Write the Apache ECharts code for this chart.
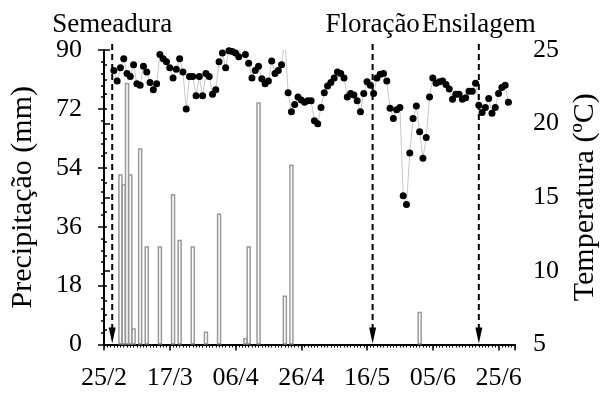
<!DOCTYPE html>
<html>
<head>
<meta charset="utf-8">
<script src="https://cdn.jsdelivr.net/npm/echarts@6/dist/echarts.min.js"></script>
<style>
  html, body { margin: 0; padding: 0; background: #fff; }
  #chart { width: 608px; height: 394px; }
</style>
</head>
<body>
<div id="chart"></div>
<script>
// Day 0 = 25/2; one value per day on the x axis.
const dateLabels = ['25/2', '17/3', '06/4', '26/4', '16/5', '05/6', '25/6'];

// Daily rainfall (mm): day index and amount.
const rainDays = [5, 6, 7, 8, 9, 11, 13, 17, 21, 23, 27, 31, 35, 43, 44, 47, 55, 57, 96];
const rainMm   = [52, 49, 80, 52, 5, 60, 30, 30, 46, 32, 30, 4, 40, 2, 30, 74, 15, 55, 10];

// Daily mean temperature (ºC), starting at day 3.
const tempStartDay = 3;
const temperature = [
  23.6, 22.9, 23.8, 24.4, 23.4, 23.2, 24.0, 22.7, 22.6, 23.9,
  23.5, 22.8, 22.3, 22.7, 24.7, 24.4, 24.2, 23.8, 23.1, 23.7,
  24.4, 23.5, 21.0, 23.2, 23.2, 21.9, 23.2, 21.9, 23.4, 23.2,
  22.0, 22.3, 24.2, 24.8, 23.8, 24.95, 24.9, 24.8, 24.55, 25.6,
  24.7, 24.1, 23.1, 23.6, 23.9, 23.05, 22.7, 22.9, 24.25, 23.4,
  23.6, 24.0, 25.8, 22.1, 20.8, 21.3, 21.8, 21.6, 21.45, 21.55,
  21.55, 20.2, 20.0, 21.1, 22.1, 22.55, 22.8, 23.1, 23.5, 23.4,
  23.1, 21.8, 22.05, 21.95, 21.55, 20.8, 22.05, 22.85, 22.6, 22.05,
  23.1, 23.35, 23.4, 22.9, 21.05, 20.35, 20.95, 21.1, 15.1, 14.5,
  18.0, 20.35, 21.2, 19.45, 17.65, 19.05, 21.8, 23.1, 22.75, 22.85,
  22.9, 22.65, 22.35, 21.65, 22.0, 22.0, 21.65, 21.75, 22.2, 22.2,
  22.75, 21.25, 20.75, 21.1, 21.7, 20.7, 21.1, 22.05, 22.45, 22.6,
  21.45
];

// Crop events marked with dashed arrows.
const eventNames = ['Semeadura', 'Floração', 'Ensilagem'];
const eventDays  = [2.5, 81.7, 114];

const FONT = '"Liberation Serif", "Times New Roman", serif';
const LABEL_SIZE = 26;
const TITLE_SIZE = 30;
const EVENT_SIZE = 27;

const rainData = rainDays.map((d, i) => [d, rainMm[i]]);
const tempData = temperature.map((t, i) => [tempStartDay + i, t]);
const eventData = eventDays.map((d, i) => [d, i]);

const chart = echarts.init(document.getElementById('chart'), null, { renderer: 'canvas' });

const axisLineStyle = { show: true, lineStyle: { color: '#000', width: 2 } };
const labelStyle = { color: '#000', fontFamily: FONT, fontSize: LABEL_SIZE };

chart.setOption({
  animation: false,
  backgroundColor: '#fff',
  grid: { left: 104, right: 90, top: 50, bottom: 49.5, containLabel: false },
  xAxis: [
    {
      type: 'value', min: 0, max: 125, interval: 20, position: 'bottom',
      axisLine: axisLineStyle,
      axisTick: { show: true, length: 6, lineStyle: { color: '#000', width: 1.5 } },
      axisLabel: {
        ...labelStyle, margin: 21,
        formatter: v => (v % 20 === 0 && dateLabels[v / 20]) ? dateLabels[v / 20] : ''
      },
      splitLine: { show: false }
    },
    {
      // daily tick marks
      type: 'value', min: 0, max: 125, interval: 1, position: 'bottom',
      axisLine: { show: false },
      axisTick: { show: true, length: 3, lineStyle: { color: '#000', width: 1 } },
      axisLabel: { show: false },
      splitLine: { show: false }
    }
  ],
  yAxis: [
    {
      type: 'value', min: 0, max: 90, interval: 18, position: 'left',
      name: 'Precipitação (mm)', nameLocation: 'middle', nameGap: 66,
      nameTextStyle: { color: '#000', fontFamily: FONT, fontSize: TITLE_SIZE },
      axisLine: axisLineStyle,
      axisTick: { show: true, length: 6, lineStyle: { color: '#000', width: 1.5 } },
      minorTick: { show: true, splitNumber: 5, length: 3, lineStyle: { color: '#000', width: 1.5 } },
      axisLabel: { ...labelStyle, margin: 22 },
      splitLine: { show: false }
    },
    {
      type: 'value', min: 5, max: 25, interval: 5, position: 'right',
      name: 'Temperatura (ºC)', nameLocation: 'middle', nameGap: 55,
      nameTextStyle: { color: '#000', fontFamily: FONT, fontSize: TITLE_SIZE },
      axisLine: axisLineStyle,
      axisTick: { show: true, length: 6, lineStyle: { color: '#000', width: 1.5 } },
      minorTick: { show: true, splitNumber: 5, length: 3, lineStyle: { color: '#000', width: 1.5 } },
      axisLabel: { ...labelStyle, margin: 18 },
      splitLine: { show: false }
    }
  ],
  series: [
    {
      name: 'Precipitação',
      type: 'bar',
      xAxisIndex: 0, yAxisIndex: 0,
      data: rainData,
      barWidth: 4.5,
      itemStyle: { color: '#fff', borderColor: '#999', borderWidth: 1.5 },
      z: 2
    },
    {
      name: 'Temperatura',
      type: 'line',
      xAxisIndex: 0, yAxisIndex: 1,
      data: tempData,
      clip: true,
      symbol: 'circle',
      symbolSize: 7,
      itemStyle: { color: '#000' },
      lineStyle: { color: '#c8c8c8', width: 1 },
      z: 3
    },
    {
      name: 'Eventos',
      type: 'custom',
      xAxisIndex: 0, yAxisIndex: 0,
      data: eventData,
      clip: false,
      z: 5,
      renderItem: (params, api) => {
        const base = api.coord([api.value(0), 0]);
        const top = api.coord([api.value(0), 90]);
        const x = base[0];
        const yb = base[1] - 1;
        const yt = top[1] - 6;
        return {
          type: 'group',
          children: [
            {
              type: 'line',
              shape: { x1: x, y1: yt, x2: x, y2: yb - 14 },
              style: { stroke: '#000', lineWidth: 2, lineDash: [6, 4] }
            },
            {
              type: 'polygon',
              shape: { points: [[x - 3.5, yb - 16], [x + 3.5, yb - 16], [x, yb]] },
              style: { fill: '#000' }
            },
            {
              type: 'text',
              style: {
                text: eventNames[params.dataIndex],
                x: x, y: yt - 6,
                align: 'center', verticalAlign: 'bottom',
                font: EVENT_SIZE + 'px ' + FONT,
                fill: '#000'
              }
            }
          ]
        };
      }
    }
  ]
});
</script>
</body>
</html>
